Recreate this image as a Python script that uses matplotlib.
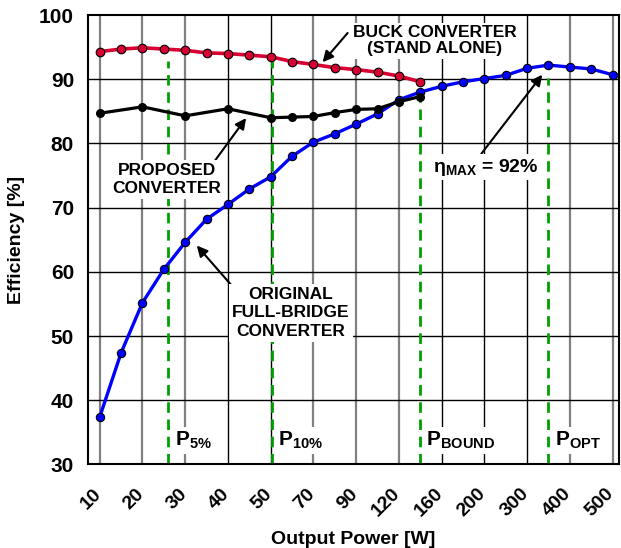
import matplotlib
matplotlib.use('Agg')
import matplotlib.pyplot as plt
from matplotlib.transforms import ScaledTranslation

plt.rcParams['font.family'] = ['Liberation Sans', 'DejaVu Sans']
plt.rcParams['font.weight'] = 'bold'
plt.rcParams['mathtext.fontset'] = 'custom'
plt.rcParams['mathtext.rm'] = 'Liberation Sans:bold'
plt.rcParams['mathtext.bf'] = 'Liberation Sans:bold'
plt.rcParams['mathtext.it'] = 'Liberation Sans:bold'

# output power points (plotted on an index axis, evenly spaced)
power = [10, 15, 20, 25, 30, 35, 40, 45, 50, 60, 70, 80, 90, 100, 120,
         140, 160, 180, 200, 250, 300, 350, 400, 450, 500]
tick_labels = ['10', '20', '30', '40', '50', '70', '90', '120', '160',
               '200', '300', '400', '500']

eff_full_bridge = [37.4, 47.4, 55.2, 60.4, 64.6, 68.2, 70.5, 72.9, 74.8,
                   78.0, 80.2, 81.5, 83.0, 84.6, 86.8, 88.0, 88.9, 89.6,
                   90.1, 90.6, 91.7, 92.2, 91.9, 91.6, 90.7]
eff_buck = [94.3, 94.7, 94.9, 94.7, 94.5, 94.1, 94.0, 93.75, 93.5, 92.75,
            92.3, 91.8, 91.5, 91.1, 90.5, 89.6]
proposed_idx = [0, 2, 4, 6, 8, 9, 10, 11, 12, 13, 14, 15]
eff_proposed = [84.7, 85.7, 84.3, 85.4, 84.0, 84.1, 84.2, 84.8, 85.3,
                85.4, 86.5, 87.3]

# marker lines P5%, P10%, Pbound, Popt (index position, top value)
p_lines_x = [3.2, 8.05, 15.0, 21.0]
p_lines_top = [92.9, 92.9, 87.0, 90.2]
p_labels = [r'$\mathrm{P}_{\mathrm{5\%}}$', r'$\mathrm{P}_{\mathrm{10\%}}$',
            r'$\mathrm{P}_{\mathrm{BOUND}}$', r'$\mathrm{P}_{\mathrm{OPT}}$']
p_label_x = [3.5, 8.35, 15.25, 21.3]

fig = plt.figure(figsize=(6.21, 5.48), dpi=100)
ax = fig.add_axes([0.1417, 0.1524, 0.855, 0.8202])

xi = list(range(len(power)))
tick_pos = xi[::2]
grid_colors = ['#808080', '#808080', '#808080', 'black', 'black', '#808080',
               '#808080', '#808080', 'black', 'black', 'black', '#808080',
               '#808080']
for x, c in zip(tick_pos, grid_colors):
    ax.axvline(x, color=c, lw=1.6 if c != 'black' else 1.0, zorder=0)
for y in range(40, 100, 10):
    ax.axhline(y, color='black', lw=1.0, zorder=0)

for x, top in zip(p_lines_x, p_lines_top):
    ax.plot([x, x], [30, top], color='#00a000', lw=2,
            dashes=(3.8, 2.4), zorder=1)

ax.plot(xi, eff_full_bridge, color='#0000ff', lw=2.4, marker='o', ms=6,
        mfc='#0000ff', mec='black', mew=0.8, zorder=3)
ax.plot(proposed_idx, eff_proposed, color='black', lw=2.3, marker='o',
        ms=5.5, mfc='black', mec='black', zorder=4)
ax.plot(xi[:len(eff_buck)], eff_buck, color='#d80032', lw=2.6, marker='o',
        ms=6.2, mfc='#d80032', mec='black', mew=0.8, zorder=5)

ax.set_xlim(-0.55, 24.3)
ax.set_ylim(30, 100)
ax.tick_params(axis='x', length=0, pad=15)
ax.tick_params(axis='y', length=0, pad=10)
ax.set_xticks(tick_pos)
ax.set_xticklabels(tick_labels, rotation=45, ha='right', va='top',
                   fontsize=14, fontweight='bold')
shift = ScaledTranslation(5 / 100, 0, fig.dpi_scale_trans)
for lab in ax.get_xticklabels():
    lab.set_transform(lab.get_transform() + shift)
ax.set_yticks(range(30, 101, 10))
ax.set_yticklabels([str(v) for v in range(30, 101, 10)], fontsize=15,
                   fontweight='bold')
for s in ax.spines.values():
    s.set_linewidth(1.5)

ax.set_xlabel('Output Power [W]', fontsize=14, fontweight='bold', labelpad=8)
ax.set_ylabel('Efficiency [%]', fontsize=14, fontweight='bold', labelpad=10)

box = dict(facecolor='white', edgecolor='none', pad=2)
arrow = dict(arrowstyle='-|>', color='black', lw=1.5, mutation_scale=16,
             shrinkA=0, shrinkB=0)

ax.annotate('', xy=(10.43, 92.65), xytext=(11.6, 97.2), arrowprops=arrow,
            zorder=6)
ax.text(15.68, 96.0, 'BUCK CONVERTER\n(STAND ALONE)', ha='center',
        va='center', fontsize=12.5, fontweight='bold', linespacing=1.05,
        bbox=box, zorder=6)

ax.annotate('', xy=(6.85, 83.95), xytext=(5.3, 76.9), arrowprops=arrow,
            zorder=6)
ax.text(3.14, 74.4, 'PROPOSED\nCONVERTER', ha='center', va='center',
        fontsize=12.5, fontweight='bold', linespacing=1.3, bbox=box, zorder=6)

ax.annotate('', xy=(4.54, 64.1), xytext=(6.18, 57.85), arrowprops=arrow,
            zorder=6)
ax.text(8.95, 53.6, 'ORIGINAL\nFULL-BRIDGE\nCONVERTER', ha='center',
        va='center', fontsize=12.5, fontweight='bold', linespacing=1.3,
        bbox=box, zorder=6)

ax.annotate('', xy=(20.71, 90.7), xytext=(17.86, 78.4), arrowprops=arrow,
            zorder=6)
ax.text(18.06, 76.3, r'$\mathrm{\eta}_{\mathrm{MAX}}$ = 92%', ha='center',
        va='center', fontsize=14, fontweight='bold', bbox=box, zorder=6)

for x, lab in zip(p_label_x, p_labels):
    ax.text(x, 32.9, lab, ha='left', va='baseline', fontsize=15,
            fontweight='bold', bbox=box, zorder=6)

fig.savefig('out.png', dpi=100)
